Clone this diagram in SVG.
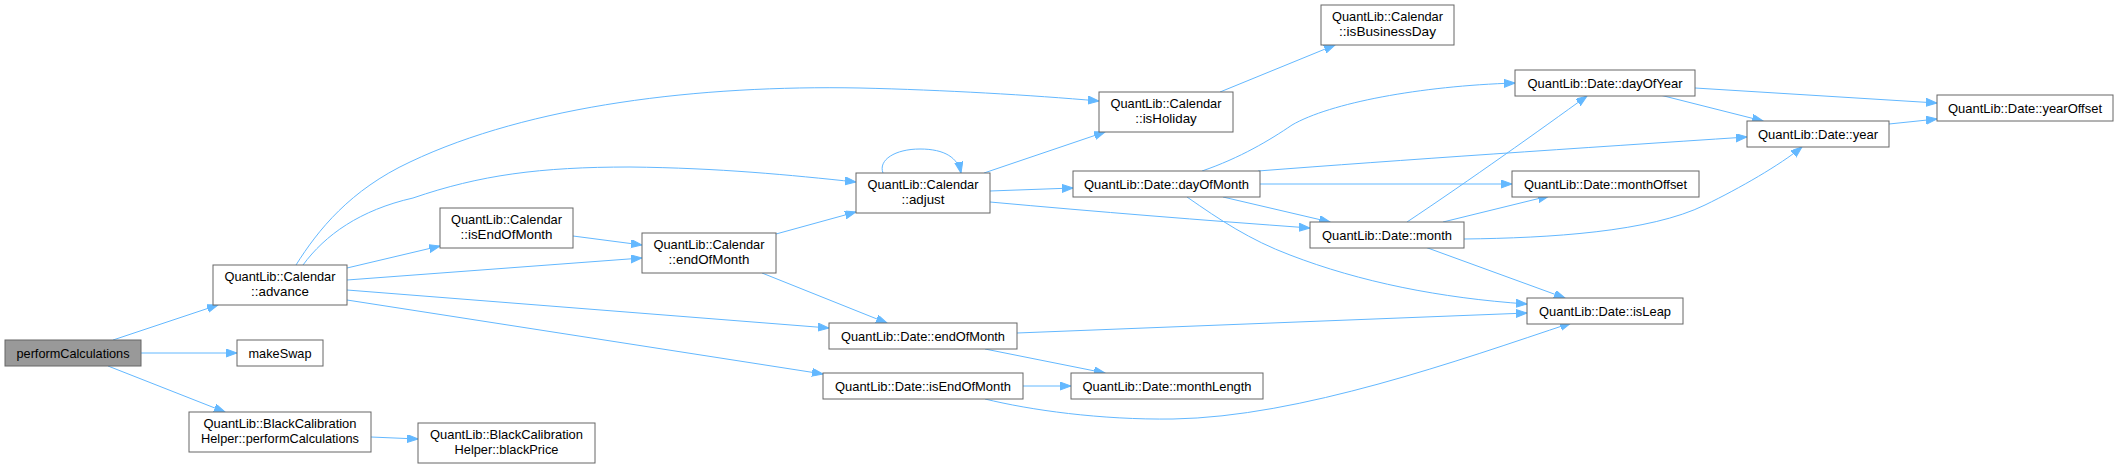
<svg xmlns="http://www.w3.org/2000/svg" width="2119" height="469" viewBox="0 0 2119 469">
<style>
.n rect{fill:#ffffff;stroke:#666666;stroke-width:1}
.n.root rect{fill:#999999}
.n text{font-family:"Liberation Sans",Arial,sans-serif;font-size:13.33px;text-anchor:middle;fill:#000000}
.e path{fill:none;stroke:#63b8ff;stroke-width:1}
</style>
<defs>
<marker id="ah" markerUnits="userSpaceOnUse" markerWidth="12" markerHeight="10" refX="11" refY="4" orient="auto">
<path d="M0,0 L11,4 L0,8 z" fill="#63b8ff" stroke="#63b8ff" stroke-width="1"/>
</marker>
</defs>
<rect width="2119" height="469" fill="#ffffff"/>
<g id="connectors" class="e">
<path marker-end="url(#ah)" d="M113,340 L218,305"/>
<path marker-end="url(#ah)" d="M141,353 L237,353"/>
<path marker-end="url(#ah)" d="M108,366 L225,412"/>
<path marker-end="url(#ah)" d="M371,437 L418,439"/>
<path marker-end="url(#ah)" d="M296,265 C318,230 350,190 410,162 C530,105 700,85 860,88 C945,90 1030,95 1099,101"/>
<path marker-end="url(#ah)" d="M303,265 C325,235 360,210 413,198 C480,175 540,167 630,167 C720,168 790,175 856,182"/>
<path marker-end="url(#ah)" d="M347,268 L440,246"/>
<path marker-end="url(#ah)" d="M347,280 L642,258"/>
<path marker-end="url(#ah)" d="M347,290 L829,328"/>
<path marker-end="url(#ah)" d="M347,300 L823,374"/>
<path marker-end="url(#ah)" d="M573,236 L642,245"/>
<path marker-end="url(#ah)" d="M776,234 L856,212"/>
<path marker-end="url(#ah)" d="M762,273 L887,323"/>
<path marker-end="url(#ah)" d="M883,173 C878,160 895,149 920,149 C945,149 958,158 961,173"/>
<path marker-end="url(#ah)" d="M984,173 L1105,132"/>
<path marker-end="url(#ah)" d="M990,191 L1073,188"/>
<path marker-end="url(#ah)" d="M990,202 C1100,212 1200,220 1310,228"/>
<path marker-end="url(#ah)" d="M1202,171 C1240,158 1270,140 1292,125 C1330,103 1420,86 1515,83"/>
<path marker-end="url(#ah)" d="M1258,171 C1400,160 1580,148 1747,137"/>
<path marker-end="url(#ah)" d="M1260,184 L1512,184"/>
<path marker-end="url(#ah)" d="M1223,197 L1330,222"/>
<path marker-end="url(#ah)" d="M1187,197 C1220,220 1250,240 1290,255 C1360,282 1440,298 1527,304"/>
<path marker-end="url(#ah)" d="M1407,222 C1470,180 1540,130 1587,96"/>
<path marker-end="url(#ah)" d="M1443,222 L1549,196"/>
<path marker-end="url(#ah)" d="M1464,239 C1550,238 1650,232 1705,205 C1740,188 1780,165 1802,147"/>
<path marker-end="url(#ah)" d="M1425,247 L1565,298"/>
<path marker-end="url(#ah)" d="M1017,333 L1527,313"/>
<path marker-end="url(#ah)" d="M985,349 L1105,373"/>
<path marker-end="url(#ah)" d="M1023,386 L1071,386"/>
<path marker-end="url(#ah)" d="M985,399 C1030,410 1100,420 1173,419 C1300,417 1460,360 1571,323"/>
<path marker-end="url(#ah)" d="M1220,92 L1335,45"/>
<path marker-end="url(#ah)" d="M1660,95 L1763,121"/>
<path marker-end="url(#ah)" d="M1695,88 L1937,103"/>
<path marker-end="url(#ah)" d="M1889,124 L1937,119"/>
</g>
<g id="node_performCalculations" class="n root"><rect x="5" y="340" width="136" height="26"/><text x="73" y="357.5" textLength="113" lengthAdjust="spacingAndGlyphs">performCalculations</text></g>
<g id="node_makeSwap" class="n"><rect x="237" y="340" width="86" height="26"/><text x="280" y="357.5" textLength="63" lengthAdjust="spacingAndGlyphs">makeSwap</text></g>
<g id="node_advance" class="n"><rect x="213" y="265" width="134" height="40"/><text x="280" y="280.5" textLength="111" lengthAdjust="spacingAndGlyphs">QuantLib::Calendar</text><text x="280" y="295.5">::advance</text></g>
<g id="node_bch_performCalculations" class="n"><rect x="189" y="412" width="182" height="40"/><text x="280" y="427.5" textLength="153" lengthAdjust="spacingAndGlyphs">QuantLib::BlackCalibration</text><text x="280" y="442.5" textLength="158" lengthAdjust="spacingAndGlyphs">Helper::performCalculations</text></g>
<g id="node_blackPrice" class="n"><rect x="418" y="423" width="177" height="40"/><text x="506.5" y="438.5" textLength="153" lengthAdjust="spacingAndGlyphs">QuantLib::BlackCalibration</text><text x="506.5" y="453.5" textLength="104" lengthAdjust="spacingAndGlyphs">Helper::blackPrice</text></g>
<g id="node_cal_isEndOfMonth" class="n"><rect x="440" y="208" width="133" height="40"/><text x="506.5" y="223.5" textLength="111" lengthAdjust="spacingAndGlyphs">QuantLib::Calendar</text><text x="506.5" y="238.5">::isEndOfMonth</text></g>
<g id="node_cal_endOfMonth" class="n"><rect x="642" y="233" width="134" height="40"/><text x="709" y="248.5" textLength="111" lengthAdjust="spacingAndGlyphs">QuantLib::Calendar</text><text x="709" y="263.5">::endOfMonth</text></g>
<g id="node_adjust" class="n"><rect x="856" y="173" width="134" height="40"/><text x="923" y="188.5" textLength="111" lengthAdjust="spacingAndGlyphs">QuantLib::Calendar</text><text x="923" y="203.5">::adjust</text></g>
<g id="node_date_endOfMonth" class="n"><rect x="829" y="323" width="188" height="26"/><text x="923" y="340.5" textLength="164" lengthAdjust="spacingAndGlyphs">QuantLib::Date::endOfMonth</text></g>
<g id="node_date_isEndOfMonth" class="n"><rect x="823" y="373" width="200" height="26"/><text x="923" y="390.5" textLength="176" lengthAdjust="spacingAndGlyphs">QuantLib::Date::isEndOfMonth</text></g>
<g id="node_monthLength" class="n"><rect x="1071" y="373" width="192" height="26"/><text x="1167" y="390.5" textLength="169" lengthAdjust="spacingAndGlyphs">QuantLib::Date::monthLength</text></g>
<g id="node_isBusinessDay" class="n"><rect x="1321" y="5" width="133" height="40"/><text x="1387.5" y="20.5" textLength="111" lengthAdjust="spacingAndGlyphs">QuantLib::Calendar</text><text x="1387.5" y="35.5" textLength="97" lengthAdjust="spacingAndGlyphs">::isBusinessDay</text></g>
<g id="node_isHoliday" class="n"><rect x="1099" y="92" width="134" height="40"/><text x="1166" y="107.5" textLength="111" lengthAdjust="spacingAndGlyphs">QuantLib::Calendar</text><text x="1166" y="122.5">::isHoliday</text></g>
<g id="node_dayOfMonth" class="n"><rect x="1073" y="171" width="187" height="26"/><text x="1166.5" y="188.5" textLength="165" lengthAdjust="spacingAndGlyphs">QuantLib::Date::dayOfMonth</text></g>
<g id="node_dayOfYear" class="n"><rect x="1515" y="70" width="180" height="26"/><text x="1605" y="87.5" textLength="155" lengthAdjust="spacingAndGlyphs">QuantLib::Date::dayOfYear</text></g>
<g id="node_monthOffset" class="n"><rect x="1512" y="171" width="187" height="26"/><text x="1605.5" y="188.5" textLength="163" lengthAdjust="spacingAndGlyphs">QuantLib::Date::monthOffset</text></g>
<g id="node_month" class="n"><rect x="1310" y="222" width="154" height="26"/><text x="1387" y="239.5" textLength="130" lengthAdjust="spacingAndGlyphs">QuantLib::Date::month</text></g>
<g id="node_isLeap" class="n"><rect x="1527" y="298" width="156" height="26"/><text x="1605" y="315.5" textLength="132" lengthAdjust="spacingAndGlyphs">QuantLib::Date::isLeap</text></g>
<g id="node_year" class="n"><rect x="1747" y="121" width="142" height="26"/><text x="1818" y="138.5" textLength="120" lengthAdjust="spacingAndGlyphs">QuantLib::Date::year</text></g>
<g id="node_yearOffset" class="n"><rect x="1937" y="95" width="176" height="26"/><text x="2025" y="112.5" textLength="154" lengthAdjust="spacingAndGlyphs">QuantLib::Date::yearOffset</text></g>
</svg>
